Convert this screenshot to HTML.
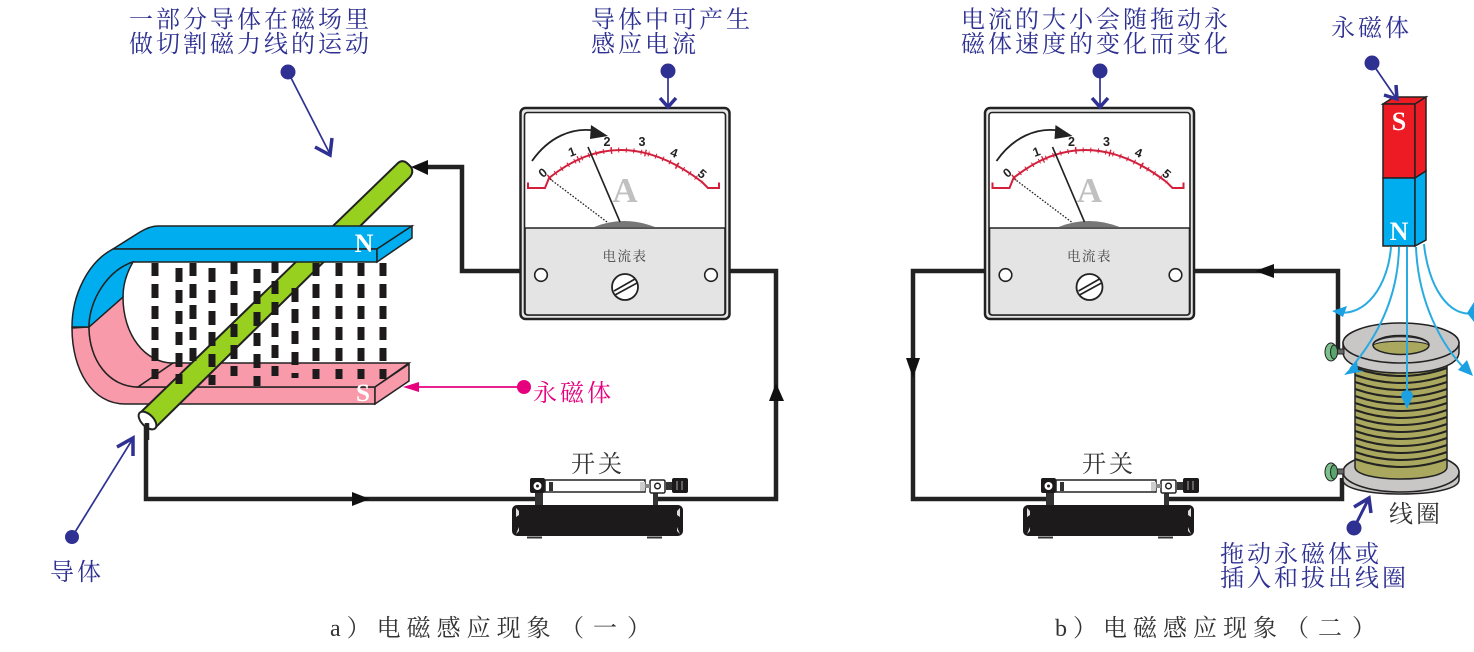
<!DOCTYPE html>
<html lang="zh">
<head>
<meta charset="utf-8">
<title>电磁感应现象</title>
<style>
html,body{margin:0;padding:0;background:#fff}
svg{display:block}
.t{font-family:"Liberation Serif","Noto Serif CJK SC",serif;font-size:24px;letter-spacing:3px;fill:#2e3192}
.k{fill:#333}
.c{letter-spacing:6px}
.n{font-family:"Liberation Sans",sans-serif;font-size:12.5px;font-weight:bold;fill:#222;text-anchor:middle;dominant-baseline:central}
.pole{font-family:"Liberation Serif",serif;font-weight:bold;font-size:26px;fill:#fff;text-anchor:middle}
.dial{font-family:"Liberation Serif","Noto Serif CJK SC",serif;font-size:13.5px;letter-spacing:1.5px;fill:#444;text-anchor:middle}
</style>
</head>
<body>
<svg xmlns="http://www.w3.org/2000/svg" width="1474" height="652" viewBox="0 0 1474 652">
<defs>
<g id="meter">
  <rect x="520.5" y="108" width="209" height="211" rx="5" fill="#e6e6e6" stroke="#222" stroke-width="2.5"/>
  <rect x="524.5" y="112.5" width="201" height="202.5" rx="3" fill="#fff" stroke="#222" stroke-width="1.6"/>
  <path d="M528 182.5V188H545L549 178Q621 120 702 182L708 188H719V182.5" fill="none" stroke="#d21f3c" stroke-width="2"/>
  <path d="M549 178Q621 120 702 182" fill="none" stroke="#d21f3c" stroke-width="5" stroke-dasharray="1 6.6"/>
  <path d="M549 178Q621 120 702 182" fill="none" stroke="#d21f3c" stroke-width="7" stroke-dasharray="1.3 33"/>
  <path d="M532 161C548 138 572 126 597 131" fill="none" stroke="#222" stroke-width="1.8"/>
  <path d="M591 125L608 136L590 139Z" fill="#222"/>
  <path d="M594 227Q624 215 655 227Z" fill="#777"/>
  <path d="M607 222L550 179" fill="none" stroke="#222" stroke-width="1.3" stroke-dasharray="1.6 1.6"/>
  <path d="M620 222L588 147" fill="none" stroke="#222" stroke-width="1.6"/>
  <path d="M525 228H725V312Q725 315 722 315H528Q525 315 525 312Z" fill="#e4e4e4" stroke="#222" stroke-width="1.6"/>
  <circle cx="541" cy="275" r="6.3" fill="#fff" stroke="#222" stroke-width="1.6"/>
  <circle cx="711" cy="275" r="6.3" fill="#fff" stroke="#222" stroke-width="1.6"/>
  <circle cx="625" cy="287" r="13" fill="#fff" stroke="#222" stroke-width="1.8"/>
  <path d="M614 291L635 279M615 295L637 283" stroke="#222" stroke-width="1.7" fill="none"/>
</g>
<g id="switch">
  <path d="M535 493h8v12h-8zM653 493h5v12h-5z" fill="#333"/>
  <rect x="512" y="505" width="171" height="31" rx="5" fill="#1c1a1b"/>
  <path d="M527 537.500h15M647 537.500h15" stroke="#333" stroke-width="2"/>
  <path d="M516 508l3 3v4l-3 2zM680 508l-3 3v4l3 2zM516 534l3-3v-4zM680 534l-3-3v-4z" fill="#ddd"/>
  <rect x="530" y="478" width="15" height="15" rx="2" fill="#1c1a1b"/>
  <circle cx="537.500" cy="486" r="3.500" fill="#fff" stroke="#fff"/><circle cx="537.500" cy="486" r="1.500" fill="#222"/>
  <rect x="545" y="480" width="100" height="12" fill="#fff" stroke="#222" stroke-width="1.500"/>
  <path d="M549 482v9h4v-9z" fill="#333"/>
  <path d="M640 482h5v9h-5" fill="#ccc"/>
  <rect x="650" y="480" width="15" height="13" rx="1.500" fill="#fff" stroke="#222" stroke-width="1.500"/>
  <circle cx="657.500" cy="486" r="2.800" fill="#fff" stroke="#222" stroke-width="1.500"/>
  <path d="M645 484h5v4h-5z" fill="#888"/>
  <path d="M666 482h6v8h-6z" fill="#333"/>
  <rect x="672" y="478" width="16" height="15" rx="2" fill="#1c1a1b"/>
  <path d="M677 481v9M682 481v9" stroke="#aaa" stroke-width="1"/>
</g>
</defs>

<!-- wires, left circuit -->
<path d="M520 271H462V167H420M729 271H776V499H657M538 499H146V423" fill="none" stroke="#222" stroke-width="4.500"/>
<path d="M411 167L428 160V175Z" fill="#111"/>
<path d="M776 383L769 401H784Z" fill="#111"/>
<path d="M370 499L352 492V506Z" fill="#111"/>

<!-- magnet, lower parts -->
<path d="M72 328C72 370 92 404 125 404H375V387H138C109 387 89 360 89 327Z" fill="#f99aaa" stroke="#222" stroke-width="1.500"/>
<path d="M89 327L123 297C123 335 145 363 173 363L138 387C109 387 89 360 89 327Z" fill="#f99aaa" stroke="#222" stroke-width="1.500"/>
<path d="M173 363H409L375 387H138Z" fill="#f99aaa" stroke="#222" stroke-width="1.500"/>
<path d="M375 387L409 364V381L375 404Z" fill="#f99aaa" stroke="#222" stroke-width="1.500"/>

<!-- conductor -->
<path d="M140 413L398 163Q403 159 408 164L411 167Q414 172 410 177L155 428Z" fill="#97d01e" stroke="#222" stroke-width="2"/>
<ellipse cx="147.500" cy="420.500" rx="11" ry="6" transform="rotate(45 147.500 420.500)" fill="#fff" stroke="#222" stroke-width="2"/>
<path d="M147 423V440" stroke="#222" stroke-width="4.500"/>

<!-- field marks -->
<path fill="none" stroke="#1c1a1b" stroke-width="7" d="
M155 263v13M155 284v14M155 306v13M155 327v13M155 348v13M155 369v10
M179 268v14M179 290v13M179 311v13M179 332v13M179 353v14M179 374v10
M193 263v13M193 284v14M193 305v14M193 327v13M193 348v13
M212 268v14M212 290v13M212 311v14M212 332v14M212 354v13M212 375v10
M234 260v14M234 281v14M234 303v13M234 324v13M234 345v14M234 366v10
M257 269v14M257 291v13M257 312v14M257 333v13M257 354v14M257 376v10
M275 260v13M275 281v13M275 302v13M275 323v14M275 345v13M275 366v10
M295 288v14M295 309v14M295 331v13M295 352v13M295 373v5
M316 263v13M316 284v14M316 306v13M316 327v13M316 348v13M316 369v10
M339 263v13M339 284v14M339 306v13M339 327v13M339 348v13M339 369v10
M361 263v13M361 284v14M361 306v13M361 327v13M361 348v13M361 369v10
M383 263v13M383 284v14M383 306v13M383 327v13M383 348v13M383 369v10"/>

<!-- magnet, upper parts -->
<path d="M113 249L140 232Q150 226 158 226H412L377 249Z" fill="#00aeef" stroke="#222" stroke-width="1.500"/>
<path d="M113 249H377V262H133C108 270 89 300 89 327H72C72 295 88 262 113 249Z" fill="#00aeef" stroke="#222" stroke-width="1.500"/>
<path d="M133 262C126 274 123 285 123 297L89 327C89 300 108 270 133 262Z" fill="#00aeef" stroke="#222" stroke-width="1.500"/>
<path d="M377 249L412 226V238L377 262Z" fill="#00aeef" stroke="#222" stroke-width="1.500"/>
<text class="pole" x="364" y="252">N</text>
<text class="pole" x="363" y="401" style="font-size:25px">S</text>

<!-- meters -->
<use href="#meter"/>
<use href="#meter" transform="translate(464.500 0)"/>
<g>
<text class="n" x="543" y="173" transform="rotate(-40 543 173)">0</text>
<text class="n" x="572" y="152" transform="rotate(-20 572 152)">1</text>
<text class="n" x="607" y="142">2</text>
<text class="n" x="642" y="142">3</text>
<text class="n" x="674" y="153" transform="rotate(20 674 153)">4</text>
<text class="n" x="702" y="174" transform="rotate(40 702 174)">5</text>
<text x="625" y="202" font-family="Liberation Serif, serif" font-weight="bold" font-size="35" fill="#c0c0c0" text-anchor="middle">A</text>
<text class="dial" x="625" y="261">电流表</text>
</g>
<g transform="translate(464.500 0)">
<text class="n" x="543" y="173" transform="rotate(-40 543 173)">0</text>
<text class="n" x="572" y="152" transform="rotate(-20 572 152)">1</text>
<text class="n" x="607" y="142">2</text>
<text class="n" x="642" y="142">3</text>
<text class="n" x="674" y="153" transform="rotate(20 674 153)">4</text>
<text class="n" x="702" y="174" transform="rotate(40 702 174)">5</text>
<text x="625" y="202" font-family="Liberation Serif, serif" font-weight="bold" font-size="35" fill="#c0c0c0" text-anchor="middle">A</text>
<text class="dial" x="625" y="261">电流表</text>
</g>

<!-- wires, right circuit -->
<path d="M985 271H913V499H1049M1195 271H1338V350M1342 478V499H1168" fill="none" stroke="#222" stroke-width="4.500"/>
<path d="M1255 271L1274 264V278Z" fill="#111"/>
<path d="M913 378L906 358H920Z" fill="#111"/>

<!-- switches -->
<use href="#switch"/>
<use href="#switch" transform="translate(511 0)"/>

<!-- coil -->
<path d="M1343 472V480C1343 489 1370 494 1401 494C1432 494 1459 489 1459 480V472Z" fill="#c9c6c6" stroke="#222" stroke-width="1.500"/>
<ellipse cx="1401" cy="472" rx="58" ry="20" fill="#c9c6c6" stroke="#222" stroke-width="1.500"/>
<path d="M1355 360V467C1355 483 1447 483 1447 467V360Z" fill="#aaa75e" stroke="#222" stroke-width="1.500"/>
<path fill="none" stroke="#222" stroke-width="2" d="M1355 368Q1401 384 1447 368M1355 375Q1401 391 1447 375M1355 382Q1401 398 1447 382M1355 389Q1401 405 1447 389M1355 396Q1401 412 1447 396M1355 403Q1401 419 1447 403M1355 410Q1401 426 1447 410M1355 417Q1401 433 1447 417M1355 424Q1401 440 1447 424M1355 431Q1401 447 1447 431M1355 438Q1401 454 1447 438M1355 445Q1401 461 1447 445M1355 452Q1401 468 1447 452M1355 459Q1401 475 1447 459"/>
<path d="M1343 343V352C1343 366 1370 373 1401 373C1432 373 1459 366 1459 352V343Z" fill="#c9c6c6" stroke="#222" stroke-width="1.500"/>
<ellipse cx="1401" cy="343" rx="58" ry="20" fill="#c9c6c6" stroke="#222" stroke-width="1.500"/>
<ellipse cx="1401" cy="345" rx="28" ry="9.500" fill="#aaa75e" stroke="#222" stroke-width="1.500"/>
<path d="M1373 345C1376 334 1426 334 1429 345C1420 340 1382 340 1373 345Z" fill="#c9c6c6" stroke="#222" stroke-width="1"/>
<path d="M1335 349h9v5h-9zM1335 469h9v5h-9z" fill="#666" stroke="#222" stroke-width="1"/>
<ellipse cx="1331" cy="352" rx="6" ry="9" fill="#7cc08b" stroke="#222"/>
<ellipse cx="1334" cy="352" rx="3.500" ry="7" fill="#5aa56d" stroke="#222"/>
<ellipse cx="1331" cy="472" rx="6" ry="9" fill="#7cc08b" stroke="#222"/>
<ellipse cx="1334" cy="472" rx="3.500" ry="7" fill="#5aa56d" stroke="#222"/>

<!-- bar magnet -->
<path d="M1383 104L1394 97H1426L1415 104Z" fill="#ed1c24" stroke="#222" stroke-width="1.500"/>
<rect x="1383" y="104" width="32" height="74" fill="#ed1c24" stroke="#222" stroke-width="1.500"/>
<path d="M1415 104L1426 97V171L1415 178Z" fill="#ed1c24" stroke="#222" stroke-width="1.500"/>
<rect x="1383" y="178" width="32" height="68" fill="#00aeef" stroke="#222" stroke-width="1.500"/>
<path d="M1415 178L1426 171V240L1415 246Z" fill="#00aeef" stroke="#222" stroke-width="1.500"/>
<text class="pole" x="1399" y="130">S</text>
<text class="pole" x="1399" y="240">N</text>

<!-- field lines -->
<g fill="none" stroke="#29abe2" stroke-width="2">
<path d="M1391 247C1388 285 1366 318 1336 312"/>
<path d="M1399 247C1398 300 1375 340 1350 369"/>
<path d="M1407 247V400"/>
<path d="M1416 247C1418 300 1440 345 1468 372"/>
<path d="M1424 244C1428 285 1448 318 1474 313"/>
</g>
<g fill="#1ba1e2">
<path d="M1332 311L1347 306L1343 317Z"/>
<path d="M1344 375L1357 361L1358 370L1364 371Z"/>
<path d="M1407 409L1401 396Q1401 391 1407 390Q1413 391 1413 396Z"/>
<path d="M1473 376L1458 370L1467 360Z"/>
<path d="M1474 302V322L1467 313Z"/>
</g>

<!-- callouts -->
<g fill="#2e3192" stroke="none">
<circle cx="288" cy="72" r="7.500"/><circle cx="668" cy="71" r="7.500"/><circle cx="1100" cy="71" r="7.500"/><circle cx="1372" cy="63" r="7.500"/><circle cx="72" cy="537" r="7"/><circle cx="1354" cy="528" r="7.500"/>
</g>
<g fill="none" stroke="#2e3192" stroke-width="1.700">
<path d="M288 72L330 154"/><path d="M668 71V106"/><path d="M1100 71V106"/><path d="M1372 63L1396 98"/><path d="M72 537L132 440"/>
<path d="M1354 528L1368 500" stroke-width="3"/>
</g>
<g fill="none" stroke="#2e3192" stroke-width="3.500">
<path d="M315 147L330 155L332 138"/>
<path d="M660 98L668 107L676 98"/>
<path d="M1092 98L1100 107L1108 98"/>
<path d="M1384 95L1397 99L1396 85"/>
<path d="M117 447L133 438V456"/>
<path d="M1354 507L1369 498L1371 513"/>
</g>
<circle cx="524" cy="387" r="7" fill="#e6007e"/>
<path d="M524 387H412" stroke="#e6007e" stroke-width="1.800"/>
<path d="M403 387L419 382V392Z" fill="#e6007e"/>

<!-- labels -->
<text class="t" x="129" y="27.500">一部分导体在磁场里</text>
<text class="t" x="129" y="52">做切割磁力线的运动</text>
<text class="t" x="591" y="27.500">导体中可产生</text>
<text class="t" x="591" y="52">感应电流</text>
<text class="t" x="961" y="27.500">电流的大小会随拖动永</text>
<text class="t" x="961" y="52">磁体速度的变化而变化</text>
<text class="t" x="1331" y="36">永磁体</text>
<text class="t" x="533" y="401" style="fill:#e6007e">永磁体</text>
<text class="t" x="50" y="580">导体</text>
<text class="t k" x="571" y="472">开关</text>
<text class="t k" x="1082" y="472">开关</text>
<text class="t k" x="1389" y="522">线圈</text>
<text class="t" x="1220" y="562">拖动永磁体或</text>
<text class="t" x="1220" y="586">插入和拔出线圈</text>
<text class="t k c" x="330" y="636">a）电磁感应现象<tspan x="560">（</tspan><tspan x="593">一</tspan><tspan x="627">）</tspan></text>
<text class="t k c" x="1055" y="636">b）电磁感应现象<tspan x="1285">（</tspan><tspan x="1318">二</tspan><tspan x="1352">）</tspan></text>
</svg>
</body>
</html>
